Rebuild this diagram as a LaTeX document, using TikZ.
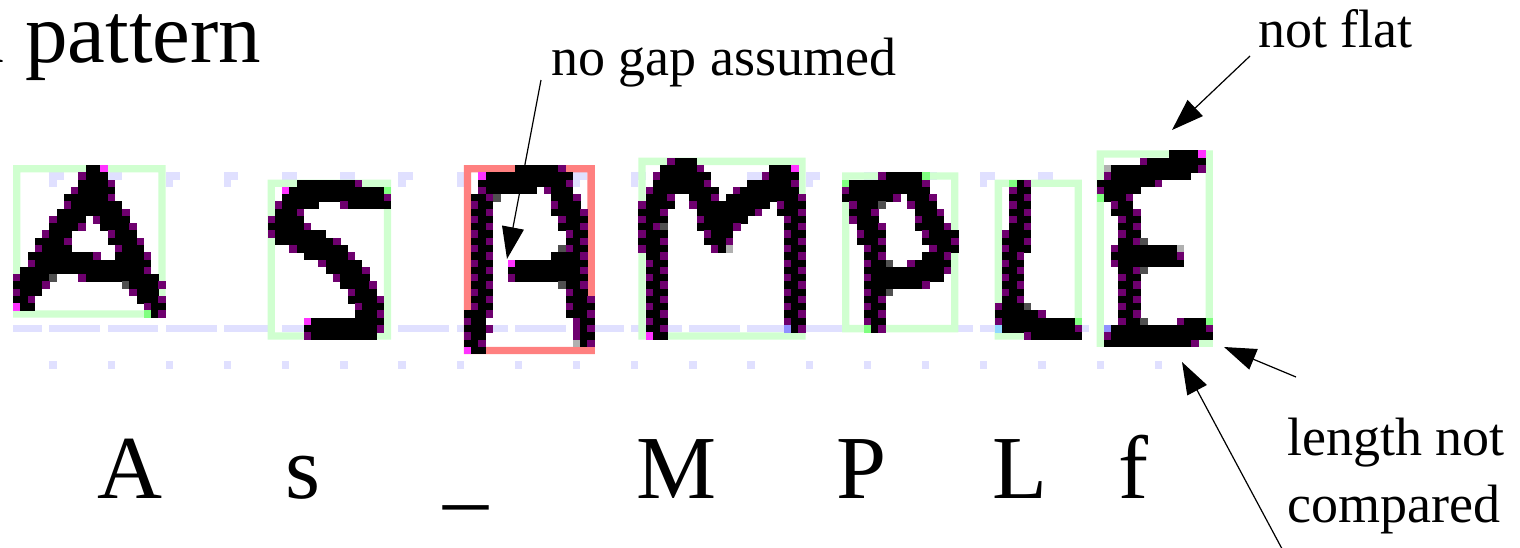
\documentclass[tikz,border=0pt]{standalone}
\usepackage{fontspec}
\setmainfont{Liberation Serif}
\usetikzlibrary{arrows.meta}
\definecolor{pxk}{HTML}{000000}
\definecolor{pxp}{HTML}{6E006E}
\definecolor{pxm}{HTML}{FF33FF}
\definecolor{pxd}{HTML}{505050}
\definecolor{pxl}{HTML}{B0B0B0}
\definecolor{pxe}{HTML}{80FF80}
\definecolor{pxb}{HTML}{9090FF}
\definecolor{pxc}{HTML}{90D8FF}
\definecolor{boxgreen}{HTML}{D0FFD0}
\definecolor{boxred}{HTML}{FF8080}
\definecolor{guide}{HTML}{E0E0FF}
\def\pw{7.272}
\makeatletter
\def\pxrow#1#2#3{\edef\pxcol{#1}\edef\pxrw{#2}\pxparse#3\relax}
\def\pxparse#1{\ifx#1\relax\else\pxcell#1\edef\pxcol{\the\numexpr\pxcol+1\relax}\expandafter\pxparse\fi}
\def\pxcell#1{\if-#1\else\fill[px#1] ({13+\pw*\pxcol},{165+\pw*\pxrw}) rectangle ++(7.6,7.6);\fi}
\def\pxendmark{\relax}
\def\pxblock#1#2#3{\edef\pxbc{#1}\edef\pxbr{#2}\pxblk@#3,\relax,}
\def\pxblk@#1,{\def\pxtmp{#1}\ifx\pxtmp\pxendmark\else\pxrow{\pxbc}{\pxbr}{#1}\edef\pxbr{\the\numexpr\pxbr+1\relax}\expandafter\pxblk@\fi}
\makeatother
\newcommand\pxframe[5]{%
  \fill[#5, even odd rule] ({13+\pw*(#1)},{165+\pw*(#2)}) rectangle ({13+\pw*(#3+1)},{165+\pw*(#4+1)})
    ({13+\pw*(#1+1)},{165+\pw*(#2+1)}) rectangle ({13+\pw*(#3)},{165+\pw*(#4)});}
\newcommand\pxspan[4]{% row, c0, c1, color
  \fill[#4] ({13+\pw*(#2)},{165+\pw*(#1)}) rectangle ({13+\pw*(#3+1)},{165+\pw*(#1+1)});}
\tikzset{
  ann/.style={font=\fontsize{27}{32}\selectfont, inner sep=0pt, anchor=base west},
  big/.style={font=\fontsize{45}{54}\selectfont, inner sep=0pt, anchor=base},
  title/.style={font=\fontsize{42.5}{50}\selectfont, inner sep=0pt, anchor=base west},
  arr/.style={line width=0.6pt, -{Triangle[length=16pt,width=11pt]}}
}
\begin{document}
\begin{tikzpicture}[x=0.5pt,y=-0.5pt]
\useasboundingbox (0,0) rectangle (1520,547);
\fill[white] (0,0) rectangle (1520,547);
% guides
\foreach \k in {0,...,19}{
  \pxspan{1}{5+8*\k}{6+8*\k}{guide}
  \pxspan{2}{5+8*\k}{5+8*\k}{guide}
  \pxspan{22}{5+8*\k}{11+8*\k}{guide}
  \pxspan{27}{5+8*\k}{5+8*\k}{guide}
}
\pxspan{22}{0}{3}{guide}
% boxes
\pxframe{0}{0}{20}{20}{boxgreen}
\pxframe{35}{2}{51}{23}{boxgreen}
\pxframe{62}{0}{79}{25}{boxred}
\pxframe{86}{-1}{108}{23}{boxgreen}
\pxframe{114}{1}{129}{22}{boxgreen}
\pxframe{135}{2}{146}{23}{boxgreen}
\pxframe{149}{-2}{164}{24}{boxgreen}
% letter A
\pxblock{0}{0}{%
----------kkm--------,
---------pkkk--------,
---------kkkkp-------,
--------pkkkkk-------,
-------kkkkkkp-------,
-------pkkkkkkk------,
------kkkkkkkkkp-----,
-----pkkkk-pkkkk-----,
-----kkkkp--kkkkp----,
----pkkk-----pkkk----,
---kkkkp-----kkkkp---,
---pkkkk------pkkk---,
--kkkkkkkkkp--kkkkp--,
--pkkkkkkkkkkkkkkkk--,
-kkkkkkkkkkkkkkkkkp--,
pkkkkd---pkkkkkkkkkk-,
kkkkp----------dkkkkp,
pkkk------------pkkk-,
kkp--------------kkkp,
mkk---------------pkk,
------------------ekp}
% letter S
\pxblock{35}{2}{%
----kkkkkkkkp----,
--mkkkkkkkkkkkkke,
--kkkkkkkkkkkkkkp,
-pkkkkk---pkkkkkk,
-kkkp------------,
pkkkk------------,
kkkkkp-----------,
pkkkkkkk---------,
-kkkkkkkkp-------,
---pkkkkkkk------,
-----kkkkkkp-----,
-------pkkkkk----,
--------kkkkkp---,
---------pkkkk---,
----------kkkkp--,
-----------pkkk--,
-----------kkkkp-,
------------pkkk-,
------------kkkp-,
-----mkkkkkkkkkk-,
-----kkkkkkkkkkp-,
-----pkkkkkkkkk--}
% letter in red box
\pxblock{62}{0}{%
-------kkkkkkp----,
--mkkkkkkkkkkkk---,
--kkkkkkkkkkkkp---,
--pkkkkkkk-pkkk---,
-kkpd-------kkkp--,
-pkk--------pkkk--,
-kkp--------kkkkp-,
-pkk---------pkkk-,
-kkp---------kkkp-,
-pkk----------pkk-,
-kkp----------kkp-,
-pkk---------dpkk-,
-kkp--------kkkkp-,
-pkk--mkkkkkkkkkk-,
-kkp--kkkkkkkkkkp-,
-pkk--pkkkkkkkkkk-,
-kkp---------dkkp-,
-pkk----------pkk-,
-kkp----------kkkp,
-pkk----------pkkk,
kkkp----------kkkp,
pkk------------pkk,
kkkp-----------pkp,
pkk------------pkk,
kkp------------lkp,
mkk---------------}
% letter M
\pxblock{86}{-1}{%
----pkkk---------------,
---kkkkkp---------kkkm-,
--pkkkkkkk-------pkkkk-,
--kkkkkkkp-----kkkkkkp-,
-pkkkkkkkkk--pkkkkkkkk-,
-kkkp--kkkp-kkkkkkkkkkp,
pkkkk--pkkkkkkkkkk-pkkk,
kkkp----kkkkkkkkp--kkkp,
pkkk----pkkkkkk-----pkk,
kkpd----kkkkkp------kkp,
pkkk-----pkkk-------pkk,
kkkp-----kkkp-------kkp,
pkkk------pkl-------pkk,
-kkp----------------kkp,
-pkk----------------pkk,
-kkp----------------kkp,
-pkk----------------pkk,
-kkp----------------kkp,
-pkk----------------pkk,
-kkp----------------kkp,
-pkk----------------pkk,
-kkp----------------kkp,
-pkk----------------pkk,
-kkp----------------bkp,
-mkk-------------------}
% letter P
\pxblock{114}{1}{%
-----pkkkkke----,
ekkkkkkkkkkp----,
pkkkkkkkkkkk----,
kkkkkkkp-kkkp---,
-pkkkd---pkkk---,
-kkkp-----kkkp--,
-pkkk-----pkkk--,
--kkkp----kkkkp-,
--pkkk-----pkkkk,
--kkkp-----kkkkp,
---pkk------pkkk,
---kkp-----kkkp-,
---pkkd--pkkkkk-,
---kkkkkkkkkkkp-,
---pkkkkkkkkkk--,
---kkkkkkkkp----,
---pkkd---------,
---kkp----------,
---pkk----------,
---kkp----------,
---pkk----------,
---ekp----------}
% letter L
\pxblock{135}{2}{%
--ekp-------,
--pkk-------,
--kkp-------,
--pkk-------,
--kkp-------,
--pkk-------,
--kkp-------,
-pkkk-------,
-kkkp-------,
-pkkk-------,
-kkp--------,
-pkk--------,
-kkp--------,
-pkk--------,
-kkp--------,
-pkk--------,
-kkp--------,
pkkkd-------,
kkkkkkp-----,
pkkkkkkkkkke,
ckkkkkkkkkkp,
----pkkkkkkk}
% letter E
\pxblock{149}{-2}{%
----------kkkkm-,
------pkkkkkkkk-,
-lkkkkkkkkkkkkp-,
-pkkkkkkkkkkk---,
kkkkkkkkp-------,
pkkkkk----------,
ekkkp-----------,
--pkk-----------,
--kkkp----------,
---pkk----------,
---kkp----------,
---pkk----------,
---kkpd---------,
--pkkkkkkkkl----,
--kkkkkkkkkp----,
--pkkkkkkkkk----,
---kkpd---------,
---pkk----------,
---kkp----------,
---pkk----------,
---kkp----------,
---pkk----------,
---kkp----------,
---pkkd----pkkke,
-bkkkkkkkkkkkkkp,
-pkkkkkkkkkkkkkk,
-kkkkkkkkkkkkp--}
% texts
\node[title] (ttl) at (-34,62) {a pattern};
\node[ann] (nogap) at (551,75) {no gap assumed};
\node[ann] (notflat) at (1258,47) {not flat};
\node[ann] (len1) at (1287,455) {length not};
\node[ann] (len2) at (1287,522) {compared};
\node[big] (bA) at (130,498) {A};
\node[big] (bs) at (303,498) {s};
\node[big] (bu) at (466,498) {\_};
\node[big] (bM) at (677,498) {M};
\node[big] (bP) at (862,498) {P};
\node[big] (bL) at (1020,498) {L};
\node[big] (bf) at (1133,498) {f};
% arrows
\coordinate (gapT) at (541,80);
\coordinate (gapH) at (507,259);
\coordinate (flatT) at (1250,56);
\coordinate (flatH) at (1172,130);
\coordinate (lenT) at (1296,377);
\coordinate (lenH) at (1224,347);
\coordinate (cmpT) at (1288,560);
\coordinate (cmpH) at (1182,362);
\draw[arr] (gapT) -- (gapH);
\draw[arr] (flatT) -- (flatH);
\draw[arr] (lenT) -- (lenH);
\draw[arr] (cmpT) -- (cmpH);
\end{tikzpicture}
\end{document}
